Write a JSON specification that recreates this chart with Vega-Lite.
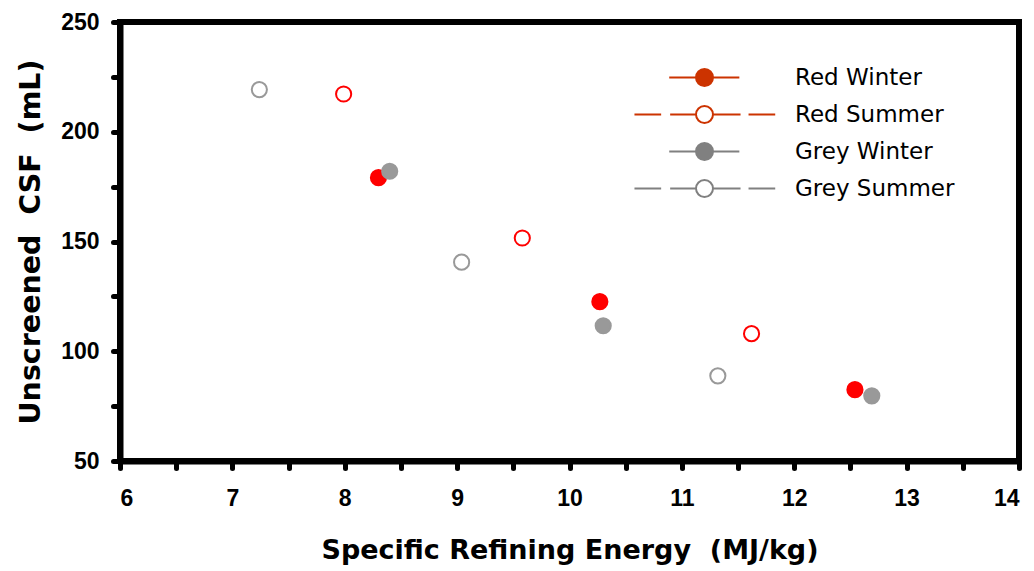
{
  "$schema": "https://vega.github.io/schema/vega-lite/v6.json",
  "autosize": "none",
  "width": 899,
  "height": 439,
  "padding": {"left": 120, "top": 22, "right": 15, "bottom": 110},
  "background": "white",
  "config": {
    "view": {"stroke": "black", "strokeWidth": 6},
    "axis": {
      "grid": false,
      "domainColor": "black",
      "domainWidth": 6,
      "tickColor": "black",
      "tickWidth": 5,
      "tickSize": 7,
      "tickCap": "round",
      "labelFont": "Liberation Sans",
      "labelFontWeight": "bold",
      "labelFontSize": 23,
      "labelColor": "black",
      "titleFont": "DejaVu Sans",
      "titleFontWeight": "bold",
      "titleFontSize": 27,
      "titleColor": "black"
    }
  },
  "data": {
    "values": [
      {"energy": 8.30, "csf": 179.1, "series": "Red Winter"},
      {"energy": 10.27, "csf": 122.6, "series": "Red Winter"},
      {"energy": 12.54, "csf": 82.5, "series": "Red Winter"},
      {"energy": 7.99, "csf": 217.2, "series": "Red Summer"},
      {"energy": 9.58, "csf": 151.6, "series": "Red Summer"},
      {"energy": 11.62, "csf": 108.0, "series": "Red Summer"},
      {"energy": 8.40, "csf": 182.0, "series": "Grey Winter"},
      {"energy": 10.30, "csf": 111.6, "series": "Grey Winter"},
      {"energy": 12.69, "csf": 79.7, "series": "Grey Winter"},
      {"energy": 7.24, "csf": 219.2, "series": "Grey Summer"},
      {"energy": 9.04, "csf": 140.6, "series": "Grey Summer"},
      {"energy": 11.32, "csf": 88.8, "series": "Grey Summer"}
    ]
  },
  "encoding": {
    "x": {
      "field": "energy", "type": "quantitative",
      "scale": {"domain": [6, 14], "nice": false, "zero": false},
      "axis": {
        "title": "Specific Refining Energy\u00a0\u00a0(MJ/kg)",
        "values": [6, 6.5, 7, 7.5, 8, 8.5, 9, 9.5, 10, 10.5, 11, 11.5, 12, 12.5, 13, 13.5, 14],
        "labelExpr": "datum.value % 1 === 0 ? toString(datum.value) : ''",
        "labelPadding": 19,
        "titlePadding": 27
      }
    },
    "y": {
      "field": "csf", "type": "quantitative",
      "scale": {"domain": [50, 250], "nice": false, "zero": false},
      "axis": {
        "title": "Unscreened\u00a0\u00a0CSF\u00a0\u00a0(mL)",
        "values": [50, 75, 100, 125, 150, 175, 200, 225, 250],
        "labelExpr": "datum.value % 50 === 0 ? toString(datum.value) : ''",
        "labelPadding": 14,
        "titlePadding": 15,
        "titleFontSize": 28.5
      }
    }
  },
  "layer": [
    {
      "mark": {"type": "point", "shape": "circle", "filled": true, "size": 289, "strokeWidth": 2, "opacity": 0},
      "encoding": {
        "shape": {
          "field": "series", "type": "nominal",
          "scale": {
            "domain": ["Red Winter", "Red Summer", "Grey Winter", "Grey Summer"],
            "range": [
              "M-4.15,0L-1,0M1,0L4.1,0M1,0A1,1,0,1,1,-1,0A1,1,0,1,1,1,0Z",
              "M-8.24,0L-5.1,0M-4.04,0L-1,0M1,0L4.24,0M5.18,0L8.32,0M1,0A1,1,0,1,1,-1,0A1,1,0,1,1,1,0Z",
              "M-4.15,0L-1,0M1,0L4.1,0M1,0A1,1,0,1,1,-1,0A1,1,0,1,1,1,0Z",
              "M-8.24,0L-5.1,0M-4.04,0L-1,0M1,0L4.24,0M5.18,0L8.32,0M1,0A1,1,0,1,1,-1,0A1,1,0,1,1,1,0Z"
            ]
          },
          "legend": {
            "title": null,
            "orient": "none",
            "legendX": 573,
            "legendY": 44,
            "padding": 0,
            "labelFont": "DejaVu Sans",
            "labelFontSize": 23,
            "labelColor": "black",
            "labelOffset": 79,
            "labelLimit": 400,
            "rowPadding": 12,
            "symbolSize": 289,
            "symbolStrokeWidth": 2,
            "symbolOpacity": 1
          }
        },
        "fill": {
          "field": "series", "type": "nominal",
          "scale": {"domain": ["Red Winter", "Red Summer", "Grey Winter", "Grey Summer"], "range": ["#CC3300", "#FFFFFF", "#808080", "#FFFFFF"]}
        },
        "stroke": {
          "field": "series", "type": "nominal",
          "scale": {"domain": ["Red Winter", "Red Summer", "Grey Winter", "Grey Summer"], "range": ["#CC3300", "#CC3300", "#808080", "#808080"]}
        }
      }
    },
    {
      "mark": {"type": "point", "shape": "circle", "filled": true, "size": 230, "strokeWidth": 2, "opacity": 1},
      "encoding": {
        "fill": {
          "condition": [
            {"test": "datum.series === 'Red Winter'", "value": "#FF0000"},
            {"test": "datum.series === 'Grey Winter'", "value": "#999999"}
          ],
          "value": "#FFFFFF"
        },
        "stroke": {
          "condition": [
            {"test": "datum.series === 'Red Winter' || datum.series === 'Red Summer'", "value": "#FF0000"}
          ],
          "value": "#999999"
        }
      }
    }
  ]
}
